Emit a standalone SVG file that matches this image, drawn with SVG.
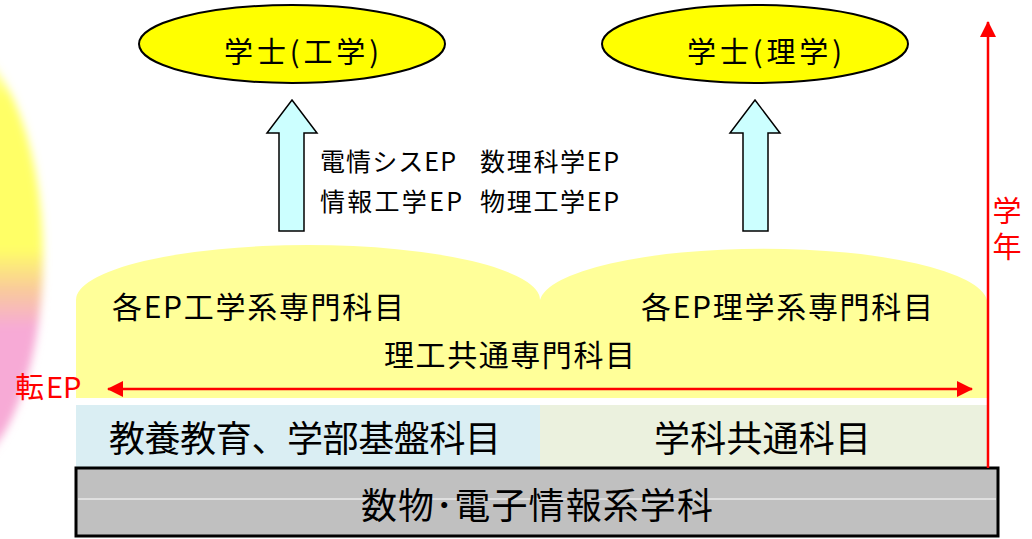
<svg xmlns="http://www.w3.org/2000/svg" width="1032" height="539" viewBox="0 0 1032 539">
<style>
text{font-family:"Noto Sans CJK JP","Noto Sans",sans-serif;fill:#000}
.red{fill:#ff0000}
.blk{fill:#ccffff;stroke:#000;stroke-width:1.5}
.deg{fill:#ffff00;stroke:#000;stroke-width:2}
</style>
<defs>
<linearGradient id="blobg" x1="0" y1="0" x2="0" y2="1">
<stop offset="0" stop-color="#ffff66" stop-opacity="0"/>
<stop offset="0.14" stop-color="#ffff66" stop-opacity="1"/>
<stop offset="0.48" stop-color="#ffff66"/>
<stop offset="0.57" stop-color="#f9cc99"/>
<stop offset="0.66" stop-color="#f7aad6"/>
<stop offset="0.9" stop-color="#f7aad6"/>
<stop offset="1" stop-color="#f7aad6" stop-opacity="0.3"/>
</linearGradient>
<filter id="blur" x="-50%" y="-50%" width="200%" height="200%"><feGaussianBlur stdDeviation="4"/></filter>
<marker id="ah" markerWidth="16" markerHeight="16" refX="15" refY="8" orient="auto-start-reverse" markerUnits="userSpaceOnUse" viewBox="0 0 16 16">
<path d="M0,0 L16,8 L0,16 z" fill="#ff0000"/>
</marker>
</defs>
<rect width="1032" height="539" fill="#fff"/>
<ellipse cx="-57" cy="257" rx="100" ry="222" fill="url(#blobg)" filter="url(#blur)"/>

<g id="specialized">
<path d="M76,300 A232,55 0 0 1 540,300 A224,55 0 0 1 987,300 L987,398 L76,398 Z" fill="#ffff99"/>
<text x="112" y="318" font-size="30" textLength="292" lengthAdjust="spacing">各EP工学系専門科目</text>
<text x="641" y="318" font-size="30" textLength="292" lengthAdjust="spacing">各EP理学系専門科目</text>
<text x="384" y="366" font-size="30" textLength="251" lengthAdjust="spacing">理工共通専門科目</text>
</g>

<g id="degree-eng">
<ellipse class="deg" cx="292" cy="44" rx="153" ry="39"/>
<text x="224" y="63" font-size="29" textLength="155" lengthAdjust="spacing">学士(工学)</text>
</g>
<g id="degree-sci">
<ellipse class="deg" cx="755" cy="44" rx="153" ry="39"/>
<text x="687" y="63" font-size="29" textLength="155" lengthAdjust="spacing">学士(理学)</text>
</g>

<g id="ep-list">
<text x="320" y="171" font-size="25" textLength="136" lengthAdjust="spacing">電情シスEP</text>
<text x="480" y="171" font-size="25" textLength="139" lengthAdjust="spacing">数理科学EP</text>
<text x="320" y="211" font-size="25" textLength="142" lengthAdjust="spacing">情報工学EP</text>
<text x="480" y="211" font-size="25" textLength="139" lengthAdjust="spacing">物理工学EP</text>
</g>

<g id="basic">
<rect x="76" y="405" width="464" height="63" fill="#daeef3"/>
<text x="109" y="452" font-size="36" textLength="392" lengthAdjust="spacing">教養教育、学部基盤科目</text>
</g>
<g id="common">
<rect x="540" y="405" width="447" height="63" fill="#ebf1de"/>
<text x="654" y="452" font-size="36" textLength="217" lengthAdjust="spacing">学科共通科目</text>
</g>
<g id="dept">
<rect x="76" y="468" width="922" height="68" fill="#c0c0c0" stroke="#000" stroke-width="3"/>
<line x1="78" y1="499" x2="996" y2="499" stroke="#fff" stroke-width="1"/>
<text x="361" y="519" font-size="36" textLength="352" lengthAdjust="spacing">数物･電子情報系学科</text>
</g>

<g id="connectors">
<path class="blk" d="M292,100 L317,133 L304,133 L304,231 L279,231 L279,133 L267,133 Z"/>
<path class="blk" d="M755,100 L780,133 L768,133 L768,231 L743,231 L743,133 L730,133 Z"/>
<line x1="108" y1="389" x2="972" y2="389" stroke="#ff0000" stroke-width="2.5" marker-start="url(#ah)" marker-end="url(#ah)"/>
<line x1="988" y1="468" x2="988" y2="22" stroke="#ff0000" stroke-width="2.5" marker-end="url(#ah)"/>
</g>

<g id="labels">
<text class="red" x="15" y="398" font-size="29">転<tspan dx="2">EP</tspan></text>
<text class="red" x="1007" y="196" font-size="29" writing-mode="vertical-rl" letter-spacing="7">学年</text>
</g>
</svg>
